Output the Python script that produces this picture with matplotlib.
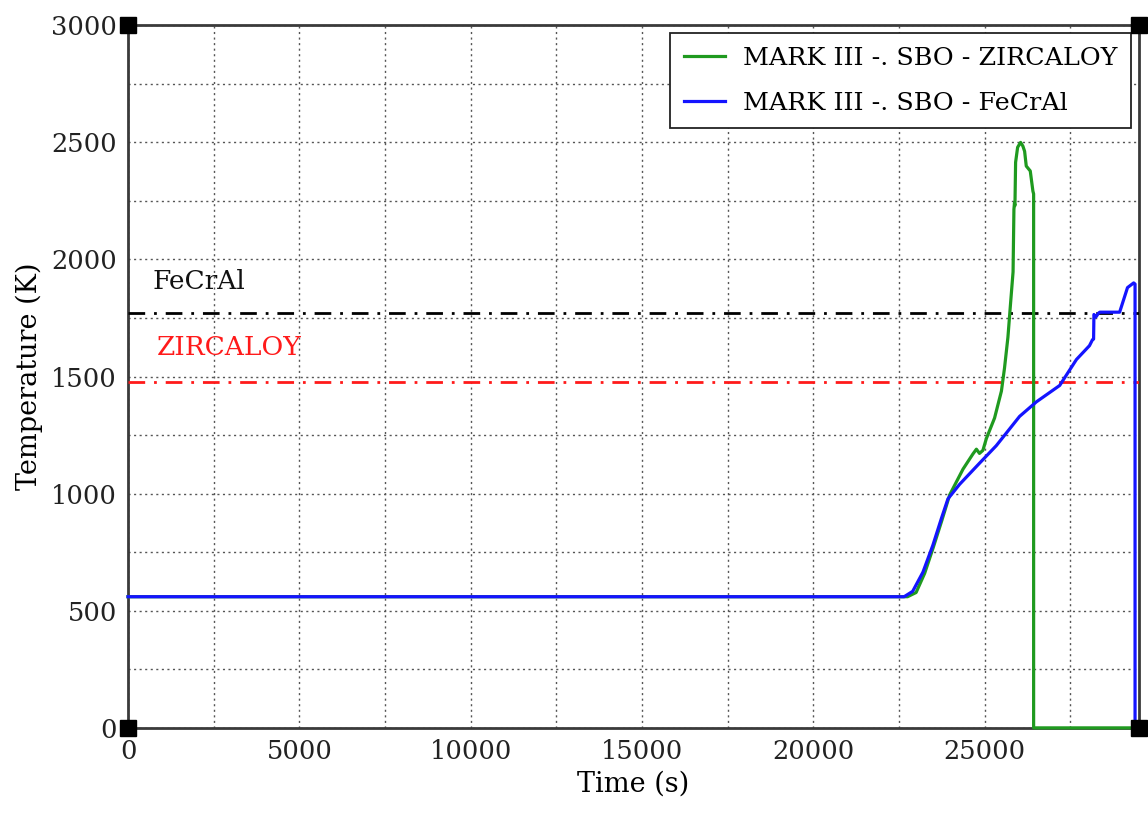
import matplotlib
matplotlib.use("Agg")
import matplotlib.pyplot as plt
from matplotlib.ticker import MultipleLocator

# Cladding temperature during the station blackout, MARK III containment
time_zr = [0, 22750, 23000, 23250, 23500, 23750, 23980, 24370, 24660, 24760,
           24850, 24950, 25050, 25290, 25490, 25580, 25680, 25750, 25830, 25855,
           25870, 25885, 25904, 25963, 26050, 26117, 26167, 26215, 26332, 26409,
           26430, 26430, 29500]
temp_zr = [560, 560, 578, 660, 770, 885, 995, 1105, 1170, 1190,
           1172, 1185, 1235, 1323, 1438, 1536, 1668, 1800, 1947, 2214,
           2240, 2230, 2415, 2479, 2500, 2484, 2462, 2399, 2378, 2292,
           2280, 0, 0]

time_fe = [0, 22650, 22900, 23200, 23490, 23740, 23930, 24270, 24850, 25340,
           26020, 26510, 27190, 27680, 28060, 28150, 28180, 28190, 28250, 28320,
           28360, 28940, 29170, 29350, 29390, 29390, 29500]
temp_fe = [560, 560, 583, 665, 780, 895, 978, 1040, 1130, 1205,
           1330, 1392, 1462, 1573, 1632, 1658, 1660, 1765, 1755, 1770,
           1775, 1775, 1880, 1900, 1895, 0, 0]

# Failure temperature limits of each cladding material
limit_fecral = 1773
limit_zircaloy = 1477

series_labels = ["MARK III -. SBO - ZIRCALOY", "MARK III -. SBO - FeCrAl"]

plt.rcParams["font.family"] = ["DejaVu Serif"]

fig = plt.figure(figsize=(11.48, 8.16), dpi=100)
ax = fig.add_axes([0.1115, 0.108, 0.8805, 0.861])

ax.set_xlim(0, 29500)
ax.set_ylim(0, 3000)

dashdot = (0, (6, 3.2, 1, 3.2))
ax.axhline(limit_fecral, color="black", lw=2, linestyle=dashdot, zorder=3)
ax.axhline(limit_zircaloy, color="#ff1a1a", lw=2, linestyle=dashdot, zorder=3)

ax.plot(time_zr, temp_zr, color="#1f9a1f", lw=2.3, label=series_labels[0],
        zorder=4, clip_on=False)
ax.plot(time_fe, temp_fe, color="#1414ff", lw=2.3, label=series_labels[1],
        zorder=5, clip_on=False)

ax.text(720, 1905, "FeCrAl", fontsize=19, color="#111111", va="center", ha="left")
ax.text(850, 1625, "ZIRCALOY", fontsize=19, color="#ff1a1a", va="center", ha="left")

ax.xaxis.set_major_locator(MultipleLocator(5000))
ax.xaxis.set_minor_locator(MultipleLocator(2500))
ax.yaxis.set_major_locator(MultipleLocator(500))
ax.yaxis.set_minor_locator(MultipleLocator(250))

grid_style = dict(color="#555555", linestyle=(0, (1.5, 2.5)), linewidth=1.0)
ax.grid(True, which="both", **grid_style)
ax.set_axisbelow(True)

ax.tick_params(which="both", length=0, labelsize=18.5, pad=8, colors="#222222")

for s in ax.spines.values():
    s.set_color("#3a3a3a")
    s.set_linewidth(2.0)

# Filled squares at the four plot corners
for cx, cy in [(0, 0), (0, 3000), (29500, 0), (29500, 3000)]:
    ax.plot(cx, cy, marker="s", markersize=11.5, color="black", clip_on=False, zorder=6)

ax.set_xlabel("Time (s)", fontsize=19.5, labelpad=5)
ax.set_ylabel("Temperature (K)", fontsize=19.5, labelpad=6)

leg = ax.legend(loc="upper right", fontsize=18.3, frameon=True, fancybox=False,
                edgecolor="#222222", framealpha=1, handlelength=1.6,
                handletextpad=0.7, borderaxespad=0.3, borderpad=0.55,
                labelspacing=0.85)
leg.get_frame().set_linewidth(1.3)

fig.savefig("out.png", dpi=100)
